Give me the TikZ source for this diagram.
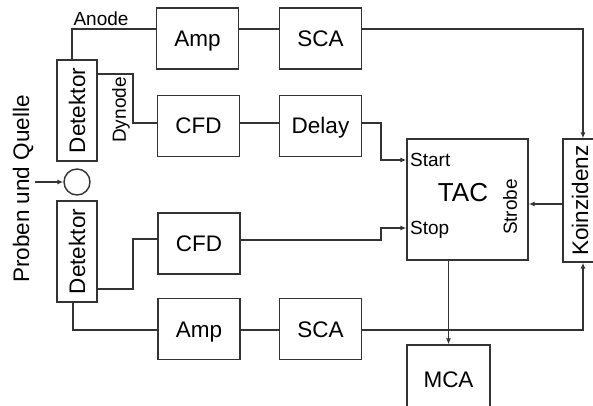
\documentclass[tikz,border=0pt]{standalone}
\usepackage{fontspec}
\setmainfont{Liberation Sans}
\usetikzlibrary{arrows.meta}
\definecolor{ln}{HTML}{333333}
\begin{document}
\begin{tikzpicture}[x=1pt,y=-1pt,
  box/.style={draw=ln,line width=1.4pt,minimum width=82pt,minimum height=61pt,inner sep=0pt,text height=16pt,text depth=0pt,font=\fontsize{22.5}{26}\selectfont},
  det/.style={draw=ln,line width=1.4pt,minimum width=40pt,minimum height=101pt,inner sep=0pt},
  rtxt/.style={rotate=90,font=\fontsize{22.5}{26}\selectfont},
  lbl/.style={font=\fontsize{19}{22}\selectfont,inner sep=0pt},
  wire/.style={draw=ln,line width=1.4pt},
  arr/.style={wire,-{Latex[length=6pt,width=5pt]}}]
\useasboundingbox (0,0) rectangle (593,406);
\clip (0,0) rectangle (593,406);
% boxes
\node[box] (amp1) at (197.5,38.5) {Amp};
\node[box] (sca1) at (320.5,38.5) {SCA};
\node[box] (cfd1) at (198.5,126) {CFD};
\node[box] (delay) at (320.5,126) {Delay};
\node[box] (cfd2) at (199,243.5) {CFD};
\node[box] (amp2) at (199,329) {Amp};
\node[box] (sca2) at (320.5,329) {SCA};
\node[det] (det1) at (77,110.5) {};
\node[rtxt] at (det1.center) {Detektor};
\node[det] (det2) at (77,251.5) {};
\node[rtxt] at (det2.center) {Detektor};
\node[draw=ln,line width=1.4pt,circle,minimum size=26pt,inner sep=0pt] (src) at (77,182) {};
\node[rtxt] (pq) at (23,189) {Proben und Quelle};
\coordinate (pqs) at (35,182);
\node[draw=ln,line width=1.4pt,minimum width=121pt,minimum height=121pt,inner sep=0pt] (tac) at (467.5,199.5) {};
\node[font=\fontsize{26}{30}\selectfont] at (463,193) {TAC};
\node[lbl,anchor=west] at (410,160) {Start};
\node[lbl,anchor=west] at (410,230) {Stop};
\node[lbl,rotate=90] at (510,207) {Strobe};
\node[draw=ln,line width=1.4pt,minimum width=40pt,minimum height=123pt,inner sep=0pt] (koin) at (583,200.5) {};
\node[rtxt] at (580,200.5) {Koinzidenz};
\node[box,minimum width=83pt,minimum height=66pt] (mca) at (448.5,378) {};
\node[font=\fontsize{22.5}{26}\selectfont] at (448.5,380) {MCA};
\node[lbl] at (101,19) {Anode};
\node[lbl,rotate=90] at (121,110) {Dynode};
% bend coordinates
\coordinate (a1) at (72,29);
\coordinate (d1) at (133,74);
\coordinate (d2) at (133,123);
\coordinate (e1) at (133,289);
\coordinate (e2) at (133,239);
\coordinate (b1) at (73,330);
\coordinate (s1) at (381,123);
\coordinate (s2) at (381,160);
\coordinate (t1) at (381,240);
\coordinate (t2) at (381,228);
\coordinate (k1) at (583,29);
\coordinate (k2) at (583,330);
\coordinate (kw) at (563,204);
% connectors
\draw[arr] (pqs) -- (src.west);
\draw[wire] (det1.north -| a1) -- (a1) -- (amp1.west |- a1);
\draw[wire] (amp1.east |- a1) -- (sca1.west |- a1);
\draw[wire] (det1.east |- d1) -- (d1) -- (d2) -- (cfd1.west |- d2);
\draw[wire] (cfd1.east |- d2) -- (delay.west |- d2);
\draw[wire] (det2.east |- e1) -- (e1) -- (e2) -- (cfd2.west |- e2);
\draw[wire] (det2.south -| b1) -- (b1) -- (amp2.west |- b1);
\draw[wire] (amp2.east |- b1) -- (sca2.west |- b1);
\draw[arr] (delay.east |- s1) -- (s1) -- (s2) -- (tac.west |- s2);
\draw[arr] (cfd2.east |- t1) -- (t1) -- (t2) -- (tac.west |- t2);
\draw[arr] (sca1.east |- k1) -- (k1) -- (koin.north);
\draw[arr] (sca2.east |- k2) -- (k2) -- (koin.south);
\draw[arr] (koin.west |- kw) -- (tac.east |- kw);
\draw[arr] (tac.south -| mca.north) -- (mca.north);
\end{tikzpicture}
\end{document}
